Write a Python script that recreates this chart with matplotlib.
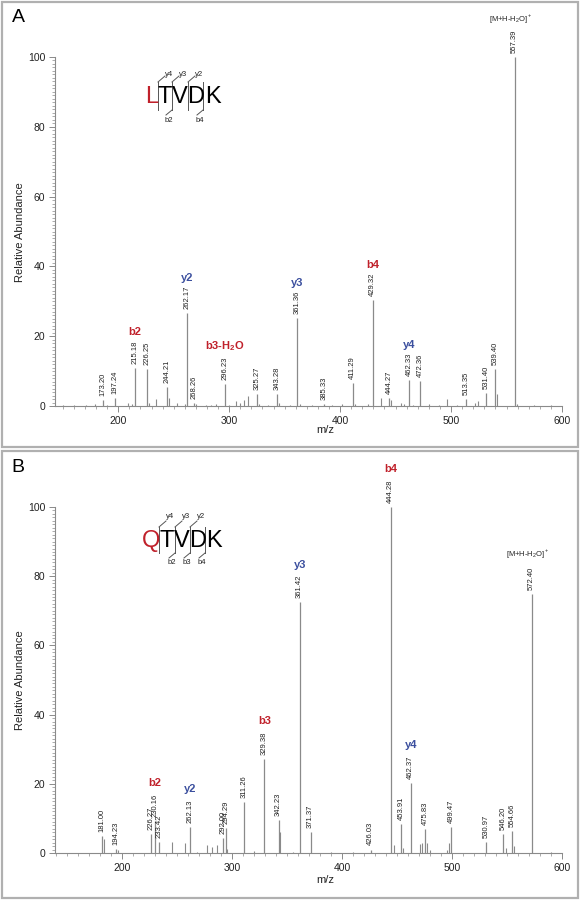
import matplotlib
matplotlib.use("Agg")
import matplotlib.pyplot as plt
from matplotlib.lines import Line2D
from matplotlib.patches import Rectangle
from matplotlib.ticker import MultipleLocator

plt.rcParams['font.family'] = ['Liberation Sans', 'DejaVu Sans']
plt.rcParams['mathtext.fontset'] = 'custom'
plt.rcParams['mathtext.rm'] = 'Liberation Sans'
plt.rcParams['mathtext.bf'] = 'Liberation Sans:bold'

W, H = 581, 901
RED = '#c0212b'
BLUE = '#3b4f9e'
GREY = '#8a8a8a'

# ---- panel A: labelled peaks (position, intensity, printed label)
a_mz = [186.0, 197.24, 215.18, 226.25, 244.21, 262.17, 268.26, 296.23, 325.27,
        343.28, 361.36, 385.33, 411.29, 429.32, 444.27, 462.33, 472.36, 513.35,
        531.40, 539.40, 557.39]
a_int = [1.7, 2.3, 10.9, 10.5, 5.4, 26.6, 0.8, 6.3, 3.4,
         3.4, 25.1, 0.5, 6.6, 30.3, 2.3, 7.4, 7.1, 2.0,
         3.7, 10.6, 100.0]
a_lbl = ['173.20', '197.24', '215.18', '226.25', '244.21', '262.17', '268.26',
         '296.23', '325.27', '343.28', '361.36', '385.33', '411.29', '429.32',
         '444.27', '462.33', '472.36', '513.35', '531.40', '539.40', '557.39']
# minor unlabelled peaks
a_small_mz = [150, 160, 171, 179, 190, 209, 212, 228, 234, 246, 253, 260, 270,
              279, 284, 288, 300, 306, 310, 313, 317, 327, 335, 345, 355, 364,
              375, 393, 402, 413, 425, 437, 446, 455, 458, 466, 480, 489, 496,
              505, 522, 524, 541, 559, 575, 590]
a_small_int = [0.3, 0.4, 0.4, 0.5, 0.4, 1.0, 0.6, 0.8, 2.0, 2.3, 0.8, 0.5, 0.6,
               0.4, 0.4, 0.5, 0.4, 1.3, 0.8, 1.6, 3.0, 0.6, 0.4, 0.8, 0.4, 0.5,
               0.4, 0.4, 0.6, 0.5, 0.5, 2.3, 1.8, 1.0, 0.6, 0.4, 0.5, 0.3, 2.0,
               0.4, 1.0, 1.5, 3.4, 0.6, 0.3, 0.3]
a_ion_mz = [215.18, 262.17, 296.23, 361.36, 429.32, 462.33, 557.39]
a_ion_txt = ['b2', 'y2', r'b3-H$_\mathbf{2}$O', 'y3', 'b4', 'y4', 'M']

# ---- panel B
b_mz = [182.0, 194.23, 226.27, 230.16, 233.42, 262.13, 292.00, 294.29, 311.26,
        329.38, 342.23, 361.42, 371.37, 426.03, 444.28, 453.91, 462.37, 475.83,
        499.47, 530.97, 546.20, 554.66, 572.40]
b_int = [4.9, 1.2, 5.5, 9.3, 3.2, 7.5, 4.3, 7.2, 14.8,
         27.2, 9.6, 72.5, 6.0, 1.0, 100.0, 8.4, 20.3, 7.0,
         7.5, 3.2, 5.5, 6.4, 74.8]
b_lbl = ['181.00', '194.23', '226.27', '230.16', '233.42', '262.13', '292.00',
         '294.29', '311.26', '329.38', '342.23', '361.42', '371.37', '426.03',
         '444.28', '453.91', '462.37', '475.83', '499.47', '530.97', '546.20',
         '554.66', '572.40']
b_small_mz = [183.5, 196, 245, 257, 268, 277, 282, 286, 295.5, 320, 343.5, 355,
              390, 410, 447, 455, 471, 473, 477, 480, 495, 497, 549, 556, 590]
b_small_int = [4.0, 0.8, 3.1, 3.0, 0.4, 2.3, 1.6, 2.3, 1.2, 0.5, 6.0, 0.4,
               0.3, 0.3, 2.3, 1.5, 2.5, 3.0, 3.0, 0.8, 1.0, 2.8, 1.5, 2.0, 0.3]
b_ion_mz = [230.16, 262.13, 329.38, 361.42, 444.28, 462.37, 572.40]
b_ion_txt = ['b2', 'y2', 'b3', 'y3', 'b4', 'y4', 'M']

# peptide sequences with fragment marks: (y label, b label) per divider
a_seq = ['L', 'T', 'V', 'D', 'K']
a_frag = [('y4', None), ('y3', 'b2'), ('y2', None), (None, 'b4')]
b_seq = ['Q', 'T', 'V', 'D', 'K']
b_frag = [('y4', None), ('y3', 'b2'), ('y2', 'b3'), (None, 'b4')]


def fx(x):
    return x / W


def fy(y):
    return 1 - y / H


fig = plt.figure(figsize=(W / 100, H / 100), dpi=100)

# panel frames
for top, bot in [(2, 447), (451, 898)]:
    fig.patches.append(Rectangle((fx(2), fy(bot)), fx(576), (bot - top) / H,
                                 transform=fig.transFigure, fill=False,
                                 edgecolor='#b0b0b0', lw=1.6))


def draw_panel(ax, mz, inten, lbl, smz, sint, ion_mz, ion_txt, xmin, ion_off):
    ax.vlines(smz, 0, sint, color=GREY, lw=0.8)
    ax.vlines(mz, 0, inten, color=GREY, lw=0.9)
    for m, h, t in zip(mz, inten, lbl):
        ax.annotate(t, (m, h), xytext=(0, 3), textcoords='offset points',
                    rotation=90, ha='center', va='bottom', fontsize=5.5,
                    color='#222222', annotation_clip=False)
    for m, t in zip(ion_mz, ion_txt):
        h = inten[mz.index(m)]
        if t == 'M':
            ax.annotate(r'[M+H-H$_2$O]$^+$', (m, h), xytext=(-3, ion_off + 1),
                        textcoords='offset points', ha='center', va='bottom',
                        fontsize=5.5, color='#222222', annotation_clip=False)
        else:
            ax.annotate(t, (m, h), xytext=(0, ion_off), textcoords='offset points',
                        ha='center', va='bottom', fontsize=8, weight='bold',
                        color=RED if t.startswith('b') else BLUE,
                        annotation_clip=False)
    ax.set_xlim(xmin, 600)
    ax.set_ylim(0, 100)
    for s in ['top', 'right']:
        ax.spines[s].set_visible(False)
    for s in ['left', 'bottom']:
        ax.spines[s].set_color(GREY)
        ax.spines[s].set_linewidth(0.8)
    ax.xaxis.set_major_locator(MultipleLocator(100))
    ax.xaxis.set_minor_locator(MultipleLocator(10))
    ax.yaxis.set_major_locator(MultipleLocator(20))
    ax.yaxis.set_minor_locator(MultipleLocator(1))
    ax.tick_params(which='major', length=4, width=0.7, color=GREY,
                   labelsize=7.5, labelcolor='#222222', pad=3)
    ax.tick_params(which='minor', length=2, width=0.5, color=GREY)
    ax.set_xticks([200, 300, 400, 500, 600])


def draw_sequence(seq, frag, dividers, ytop, ybot, ylab, blab, letter_x):
    for i, ch in enumerate(seq):
        fig.text(fx(letter_x[i]), fy((ytop + ybot) / 2 + 1), ch, fontsize=17,
                 ha='center', va='center', color=RED if i == 0 else 'black')
    for dx, (yl, bl) in zip(dividers, frag):
        fig.add_artist(Line2D([fx(dx), fx(dx)], [fy(ytop), fy(ybot)],
                              transform=fig.transFigure, color='#555555', lw=0.7))
        if yl:
            fig.add_artist(Line2D([fx(dx), fx(dx + 7)], [fy(ytop), fy(ytop - 6)],
                                  transform=fig.transFigure, color='#555555', lw=0.7))
            fig.text(fx(dx + 11), fy(ylab), yl, fontsize=5.5, ha='center',
                     va='center', color='#222222')
        if bl:
            fig.add_artist(Line2D([fx(dx), fx(dx - 6)], [fy(ybot), fy(ybot + 5)],
                                  transform=fig.transFigure, color='#555555', lw=0.7))
            fig.text(fx(dx - 3), fy(blab), bl, fontsize=5.5, ha='center',
                     va='center', color='#222222')


axA = fig.add_axes([fx(55), fy(406), (562 - 55) / W, (406 - 57) / H])
draw_panel(axA, a_mz, a_int, a_lbl, a_small_mz, a_small_int, a_ion_mz, a_ion_txt,
           143, 22)
axB = fig.add_axes([fx(55), fy(853), (562 - 55) / W, (853 - 507) / H])
draw_panel(axB, b_mz, b_int, b_lbl, b_small_mz, b_small_int, b_ion_mz, b_ion_txt,
           139, 23.5)

draw_sequence(a_seq, a_frag, [158, 172, 188, 203], 82, 110, 75, 121,
              [152, 165, 180, 196, 213])
draw_sequence(b_seq, b_frag, [159, 175, 190, 205], 527, 553, 517, 563,
              [151, 167, 182, 198, 214])

for lab, y0, yc, ym in [('A', 18, 232, 430), ('B', 468, 680, 880)]:
    fig.text(fx(18), fy(y0), lab, fontsize=14, ha='center', va='center')
    fig.text(fx(20), fy(yc), 'Relative Abundance', fontsize=8, rotation=90,
             ha='center', va='center', color='#222222')
    fig.text(fx(325), fy(ym), 'm/z', fontsize=8, ha='center', va='center',
             color='#222222')

fig.savefig('out.png', dpi=100)
